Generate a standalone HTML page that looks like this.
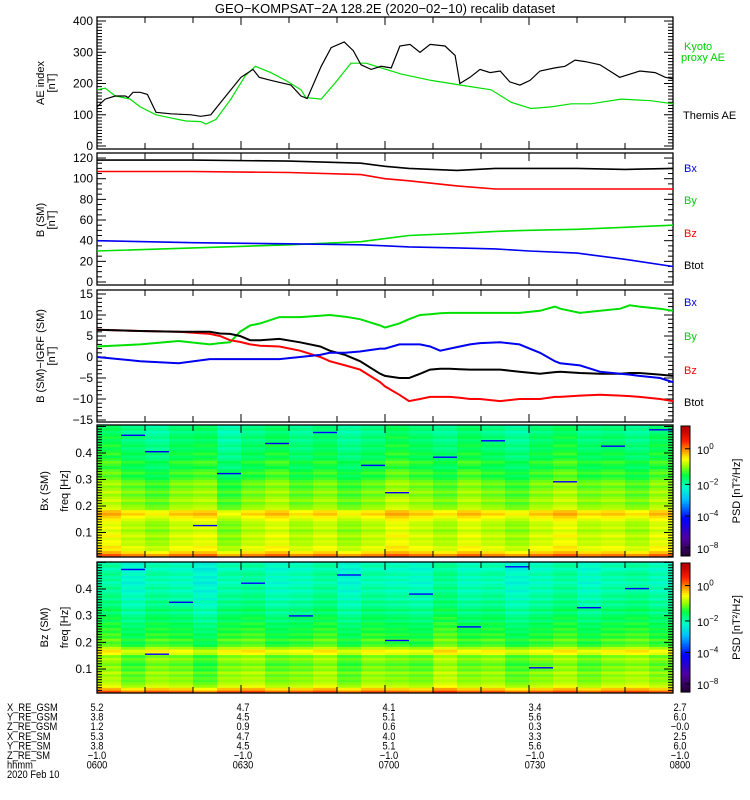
<!DOCTYPE html>
<html><head><meta charset="utf-8">
<style>
html,body{margin:0;padding:0;background:#fff;}
svg{display:block;font-family:"Liberation Sans",sans-serif;}
text{font-size:11px;fill:#000;}
</style></head>
<body>
<svg id="fig" width="750" height="800" viewBox="0 0 750 800" xmlns="http://www.w3.org/2000/svg">
<text x="385" y="13" text-anchor="middle" style="font-size:13px">GEO−KOMPSAT−2A 128.2E (2020−02−10) recalib dataset</text>
<g id="layer"></g>
</svg>
<script>
const svgNS="http://www.w3.org/2000/svg";
const layer=document.getElementById('layer');
// Time axis
const X0=97, X1=673, TMAX=120;
function xs(t){return X0+(X1-X0)*t/TMAX;}

// Panel 1 AE index
const aeTimes   = [0,1.7,3.8,5.9,6.5,7.5,9,10.5,12.3,15.4,19.6,21.6,23.7,25.8,27.9,30,32.5,33.8,36.3,40.4,42.5,43.8,46.7,48.8,51.5,53.4,55,57.1,59.2,61.3,63.1,65.2,67.3,69.4,72.5,74.6,75.6,77.7,79.8,81.9,84,86,88.1,90.2,92.3,95.4,97.5,99.6,101.7,104.8,108.9,113.1,116.3,118.4,120];
const aeThemis  = [125,150,160,160,155,172,172,165,108,103,100,95,100,140,180,220,245,220,210,195,160,152,255,315,333,305,260,245,255,250,320,325,300,325,320,290,200,220,245,235,240,205,195,210,240,250,255,275,270,260,220,240,235,220,215];
const aeKyotoT  = [0,1.7,3.8,6.9,9,12.3,15.4,18.5,21.6,22.7,24.8,27.9,30.9,33,36.2,39.3,42.5,43.5,46.7,49.8,52.9,56.1,59.2,63.4,69.6,75.8,82.1,86.3,90.4,94.6,98.8,102.9,109.2,115.4,120];
const aeKyoto   = [180,185,160,150,125,100,90,80,78,70,85,150,225,255,235,210,180,155,150,205,265,265,250,230,210,195,180,140,120,125,135,135,150,145,135];

// Panel 2 B (SM)
const bT   = [0,20,40,55,60,65,75,83,90,100,110,120];
const bTot = [118,118,117,115,112,110,108,110,110,110,109,110];
const bZ   = [107,107,106,104,100,98,93,90,90,90,90,90];
const bY   = [30,33,36,39,42,45,47,49,50,51,53,55];
const bX   = [40,38,37,36,35,34,33,32,30,28,22,15];

// Panel 3 B - IGRF
const dT    = [0,9,17,23.5,25.6,27.7,29.8,31.9,34,38,42.3,46.5,48.5,51.7,54.8,59,60,63,65,67.3,69.4,71.5,73.5,75.6,77.7,79.8,84,88,92.3,95.4,96.5,100.6,104.8,109,111,113,117.3,120];
const dBtot = [6.5,6.2,6,6,5.6,5.5,5,4,4,4.3,3.5,2.5,1.5,0.5,-1,-4,-4.5,-5,-5,-4,-3,-2.8,-2.8,-2.9,-3,-3,-3,-3.5,-4,-3.6,-3.5,-3.8,-4,-4,-3.8,-3.8,-4.2,-4.5];
const dBz   = [6.5,6.2,6,5.5,5,4,3.6,3,2.7,2.5,1.5,0,-1,-2,-3,-6,-7,-9,-10.5,-10,-9.5,-9.5,-9.5,-9.7,-10,-10,-10.5,-10,-10,-9.5,-9.5,-9.2,-9,-9.2,-9.3,-9.5,-10,-10.5];
const dBy   = [2.5,3,3.8,3,3.3,3.5,6,7.5,8,9.5,9.5,9.8,10,9.6,9,7.5,7,8,9,10,10.2,10.4,10.5,10.5,10.5,10.5,10.5,10.5,11,12,11.5,10.5,11,11.5,12.3,12,11.5,11];
const dBx   = [0,-1,-1.5,-0.5,-0.5,-0.5,-0.5,-0.5,-0.5,-0.5,0,0.5,1,1,1.3,2,2,3,3,3,2.5,1.5,2,2.5,3,3.3,3.5,3,1,-1,-1.5,-2,-3.5,-4,-4.2,-4.5,-5,-6];

// Spectrogram log10 PSD: row profile (low -> high freq) and column offsets
const bxRows = [-0.5,-1.1,-1.5,-1.4,-1.7,-1.6,-1.8,-1.5,-1.7,-1.9,-1.6,-1.8,-1.7,-1.5,-1.3,-1.0,-1.2,-1.8,-1.9,-2.1,-1.8,-2.0,-2.2,-1.9,-2.1,-2.3,-2.0,-2.2,-2.4,-2.6,-2.3,-2.5,-2.8,-2.6,-2.4,-2.7,-2.9,-2.6,-2.8,-3.0,-2.7,-2.9,-3.1,-2.8,-3.0,-3.2,-2.9,-3.1];
const bzRows = [-0.3,-1.0,-1.6,-1.8,-2.0,-1.9,-2.1,-1.8,-2.2,-2.0,-2.3,-2.1,-1.9,-2.2,-1.5,-1.3,-1.8,-2.3,-2.5,-2.2,-2.6,-2.4,-2.7,-2.5,-2.8,-2.6,-3.0,-2.7,-2.9,-3.2,-2.8,-3.1,-3.3,-3.0,-3.4,-3.1,-3.3,-3.5,-3.2,-3.4,-3.6,-3.3,-3.5,-3.2,-3.4,-3.6,-3.3,-3.5];
const bxCols = [0.3,0,-0.2,0.1,0.2,-0.3,0,0.2,-0.1,0.1,-0.2,0,0.3,0.1,-0.1,0.2,0,-0.2,0.1,0.3,0,0.1,-0.1,0.2];
const bzCols = [0.2,-0.2,0.1,0,-0.3,0.1,0.2,-0.1,0,0.2,-0.2,0.1,0,-0.1,0.3,0,0.1,-0.2,0,0.2,-0.1,0.1,0.2,0];
const bxStreaks = [[1,44],[2,38],[5,30],[7,41],[9,45],[12,23],[14,36],[16,42],[19,27],[21,40],[4,11],[11,33],[23,46]];
const bzStreaks = [[1,45],[3,33],[6,40],[8,28],[10,43],[13,36],[15,24],[17,46],[20,31],[22,38],[2,14],[12,19],[18,9]];

const tickLabelsAE=['0','100','200','300','400'];
const hhmmLabels=['0600','0630','0700','0730','0800'];
const ephemNames=['X_RE_GSM','Y_RE_GSM','Z_RE_GSM','X_RE_SM','Y_RE_SM','Z_RE_SM'];
const ephemVals=[['5.2','4.7','4.1','3.4','2.7'],['3.8','4.5','5.1','5.6','6.0'],['1.2','0.9','0.6','0.3','−0.0'],['5.3','4.7','4.0','3.3','2.5'],['3.8','4.5','5.1','5.6','6.0'],['−1.0','−1.0','−1.0','−1.0','−1.0']];

function el(tag,attrs,parent){const e=document.createElementNS(svgNS,tag);for(const k in attrs)e.setAttribute(k,attrs[k]);(parent||layer).appendChild(e);return e;}
function txt(s,x,y,anchor,fill,size,name){const t=el('text',{x:x,y:y,'text-anchor':anchor||'start'});if(fill)t.style.fill=fill;if(size)t.style.fontSize=size+'px';t.textContent=s;


return t;}

function frameAndTicks(top,bot,name){
  const g=el('g',{});
  
  
  el('rect',{x:X0,y:top,width:X1-X0,height:bot-top,fill:'none',stroke:'#000','stroke-width':1.3},g);
  for(let m=0;m<=TMAX;m+=10){const x=xs(m);const L=(m%30===0)?8:6;
    el('line',{x1:x,y1:top,x2:x,y2:top+L,stroke:'#000'},g);el('line',{x1:x,y1:bot,x2:x,y2:bot-L,stroke:'#000'},g);}
  return g;
}
function yTicks(g,ymap,vmin,vmax,minor,major,fmt,fs){
  for(let v=vmin;v<=vmax+1e-9;v+=minor){const y=ymap(v);const isM=Math.abs(v/major-Math.round(v/major))<1e-6;const L=isM?9:5;
    el('line',{x1:X0,y1:y,x2:X0+L,y2:y,stroke:'#000'},g);el('line',{x1:X1,y1:y,x2:X1-L,y2:y,stroke:'#000'},g);
    if(isM&&fmt){txt(fmt(v),X0-4,y+4,'end',null,fs||12,'y-tick-label');}}
}
function line(ts,vs,ymap,color,name,w){const d=ts.map((t,i)=>(i?'L':'M')+xs(t).toFixed(1)+','+ymap(vs[i]).toFixed(1)).join('');
  const p=el('path',{d:d,fill:'none',stroke:color,'stroke-width':w||1.6});
  
  }
function ylab(lines,x,y,name){const t=el('text',{transform:`translate(${x},${y}) rotate(-90)`,'text-anchor':'middle'});
  
  
  lines.forEach((s,i)=>{const ts=el('tspan',{x:0,dy:i?11:0},t);ts.textContent=s;});}

// Panel 1
const y1=v=>146-v*0.3125;
let g=frameAndTicks(17,149,'ae-panel');
yTicks(g,y1,0,400,10,100,v=>tickLabelsAE[v/100],12);
line(aeKyotoT,aeKyoto,y1,'#00e000','kyoto-ae-line',1.2);
line(aeTimes,aeThemis,y1,'#000','themis-ae-line',1.2);
ylab(['AE index','[nT]'],44,83,'ae-y-axis-title');
txt('Kyoto',684,50,'start','#00d000',11,'legend-kyoto');txt('proxy AE',681,61,'start','#00d000',11,'legend-proxy-ae');
txt('Themis AE',683,119,'start',null,11,'legend-themis-ae');

// Panel 2
const y2=v=>282-v*1.033;
g=frameAndTicks(153,285,'b-sm-panel');
yTicks(g,y2,0,120,5,20,v=>String(v),12);
line(bT,bTot,y2,'#000','btot-line');line(bT,bZ,y2,'#f00','bz-line');line(bT,bY,y2,'#00e000','by-line');line(bT,bX,y2,'#0000f0','bx-line');
ylab(['B (SM)','[nT]'],44,220,'b-sm-y-axis-title');
txt('Bx',684,172,'start','#0000e0',11,'legend-bx');txt('By',684,204,'start','#00d000',11,'legend-by');txt('Bz',684,237,'start','#f00',11,'legend-bz');txt('Btot',684,269,'start',null,11,'legend-btot');

// Panel 3
const y3=v=>357-v*4.2;
g=frameAndTicks(290,422,'b-igrf-panel');
yTicks(g,y3,-15,15,1,5,v=>String(v).replace('-','−'),12);
line(dT,dBy,y3,'#00e000','dby-line',2);line(dT,dBz,y3,'#f00','dbz-line',2);line(dT,dBtot,y3,'#000','dbtot-line',2);line(dT,dBx,y3,'#0000f0','dbx-line',2);
ylab(['B (SM)−IGRF (SM)','[nT]'],44,356,'b-igrf-y-axis-title');
txt('Bx',684,306,'start','#0000e0',11,'legend-bx-2');txt('By',684,340,'start','#00d000',11,'legend-by-2');txt('Bz',684,374,'start','#f00',11,'legend-bz-2');txt('Btot',684,406,'start',null,11,'legend-btot-2');

// colormap
const stops=[[-9,[30,0,40]],[-7.5,[80,0,160]],[-6,[0,0,255]],[-4.5,[0,190,255]],[-3.5,[0,255,200]],[-2.6,[0,255,70]],[-1.9,[150,255,0]],[-1.3,[255,255,0]],[-0.7,[255,160,0]],[0.1,[255,30,0]],[1,[190,0,0]]];
function cmap(v){if(v<=stops[0][0])return 'rgb('+stops[0][1]+')';for(let i=1;i<stops.length;i++){if(v<=stops[i][0]){const a=stops[i-1],b=stops[i];const f=(v-a[0])/(b[0]-a[0]);return 'rgb('+a[1].map((c,k)=>Math.round(c+(b[1][k]-c)*f)).join(',')+')';}}return 'rgb('+stops[stops.length-1][1]+')';}

function spectro(top,bot,f0y,pxPerHz,rows,cols,streaks,name,lab){
  const gg=el('g',{});
  
  
  const nR=rows.length,nC=cols.length,fmin=0.01,fmax=(f0y-top)/pxPerHz,df=(fmax-fmin)/nR,cw=TMAX/nC;
  for(let c=0;c<nC;c++)for(let r=0;r<nR;r++){
    const v=rows[r]+cols[c];
    const ya=f0y-(fmin+(r+1)*df)*pxPerHz,yb=f0y-(fmin+r*df)*pxPerHz;
    const x=xs(c*cw);
    const cell=el('rect',{x:x.toFixed(1),y:ya.toFixed(1),width:(xs((c+1)*cw)-x+0.3).toFixed(1),height:(yb-ya+0.3).toFixed(2),fill:cmap(v)},gg);
    
    
  }
  streaks.forEach(s=>{const c=s[0],r=s[1];const ya=f0y-(fmin+(r+0.5)*df)*pxPerHz;const x=xs(c*cw);
    const sk=el('rect',{x:x.toFixed(1),y:ya.toFixed(1),width:(xs((c+1)*cw)-x).toFixed(1),height:1.4,fill:cmap(-6)},gg);
    
    });
  const fg=frameAndTicks(top,bot,name);
  const fm=f=>f0y-f*pxPerHz;
  for(let i=1;i<=50;i++){const f=i/100;const y=fm(f);if(y<top)break;const isM=i%10===0;
    el('line',{x1:X0,y1:y,x2:X0+(isM?9:5),y2:y,stroke:'#000'},fg);el('line',{x1:X1,y1:y,x2:X1-(isM?9:5),y2:y,stroke:'#000'},fg);
    if(isM&&i<50)txt('0.'+(i/10),X0-5,y+4,'end',null,12,'freq-tick-label');}
  ylab([lab],48,(top+bot)/2,name+'-component-title');
  ylab(['freq [Hz]'],68,(top+bot)/2,name+'-freq-title');
  const cb=el('g',{});
  
  
  const n=60;for(let i=0;i<n;i++){const v=1.2-(10.2*i/n);el('rect',{x:681,y:(top+1+i*(bot-top-2)/n).toFixed(1),width:9,height:((bot-top)/n+0.5).toFixed(1),fill:cmap(v)},cb);}
  el('rect',{x:681,y:top+1,width:9,height:bot-top-2,fill:'none',stroke:'#000'},cb);
  const lbls=[['0',0.18],['−2',0.45],['−4',0.69],['−8',0.93]];
  lbls.forEach(l=>{const y=top+(bot-top)*l[1];el('line',{x1:690,y1:y,x2:685,y2:y,stroke:'#000'},cb);
    const t=txt('10',697,y+5,'start',null,11,'colorbar-tick-label');const s=el('tspan',{dy:-5},t);s.style.fontSize='8px';s.textContent=l[0];});
  const pt=el('text',{transform:`translate(740,${(top+bot)/2}) rotate(-90)`,'text-anchor':'middle'});
  
  
  pt.style.fontSize='11px';pt.textContent='PSD [nT²/Hz]';
}
spectro(425,557,559,265,bxRows,bxCols,bxStreaks,'bx-spectrogram','Bx (SM)');
spectro(562,693,695.7,266.7,bzRows,bzCols,bzStreaks,'bz-spectrogram','Bz (SM)');

// Ephemeris table
const colX=[97,243,389,535,680];
function etxt(s,x,y,anchor,name){const t=txt(s,x,y,anchor,null,11,name);t.setAttribute('transform',`translate(${x},0) scale(0.85,1) translate(${-x},0)`);return t;}
ephemNames.forEach((n,i)=>{const y=711+i*9.6;etxt(n,7,y,'start','ephem-row-label');ephemVals[i].forEach((v,j)=>etxt(v,colX[j],y,'middle','ephem-value'));});
etxt('hhmm',7,711+6*9.6,'start','hhmm-label');
hhmmLabels.forEach((v,j)=>etxt(v,colX[j],711+6*9.6,'middle','time-tick-label'));
etxt('2020 Feb 10',7,711+7*9.6,'start','date-label');
</script>
</body></html>
